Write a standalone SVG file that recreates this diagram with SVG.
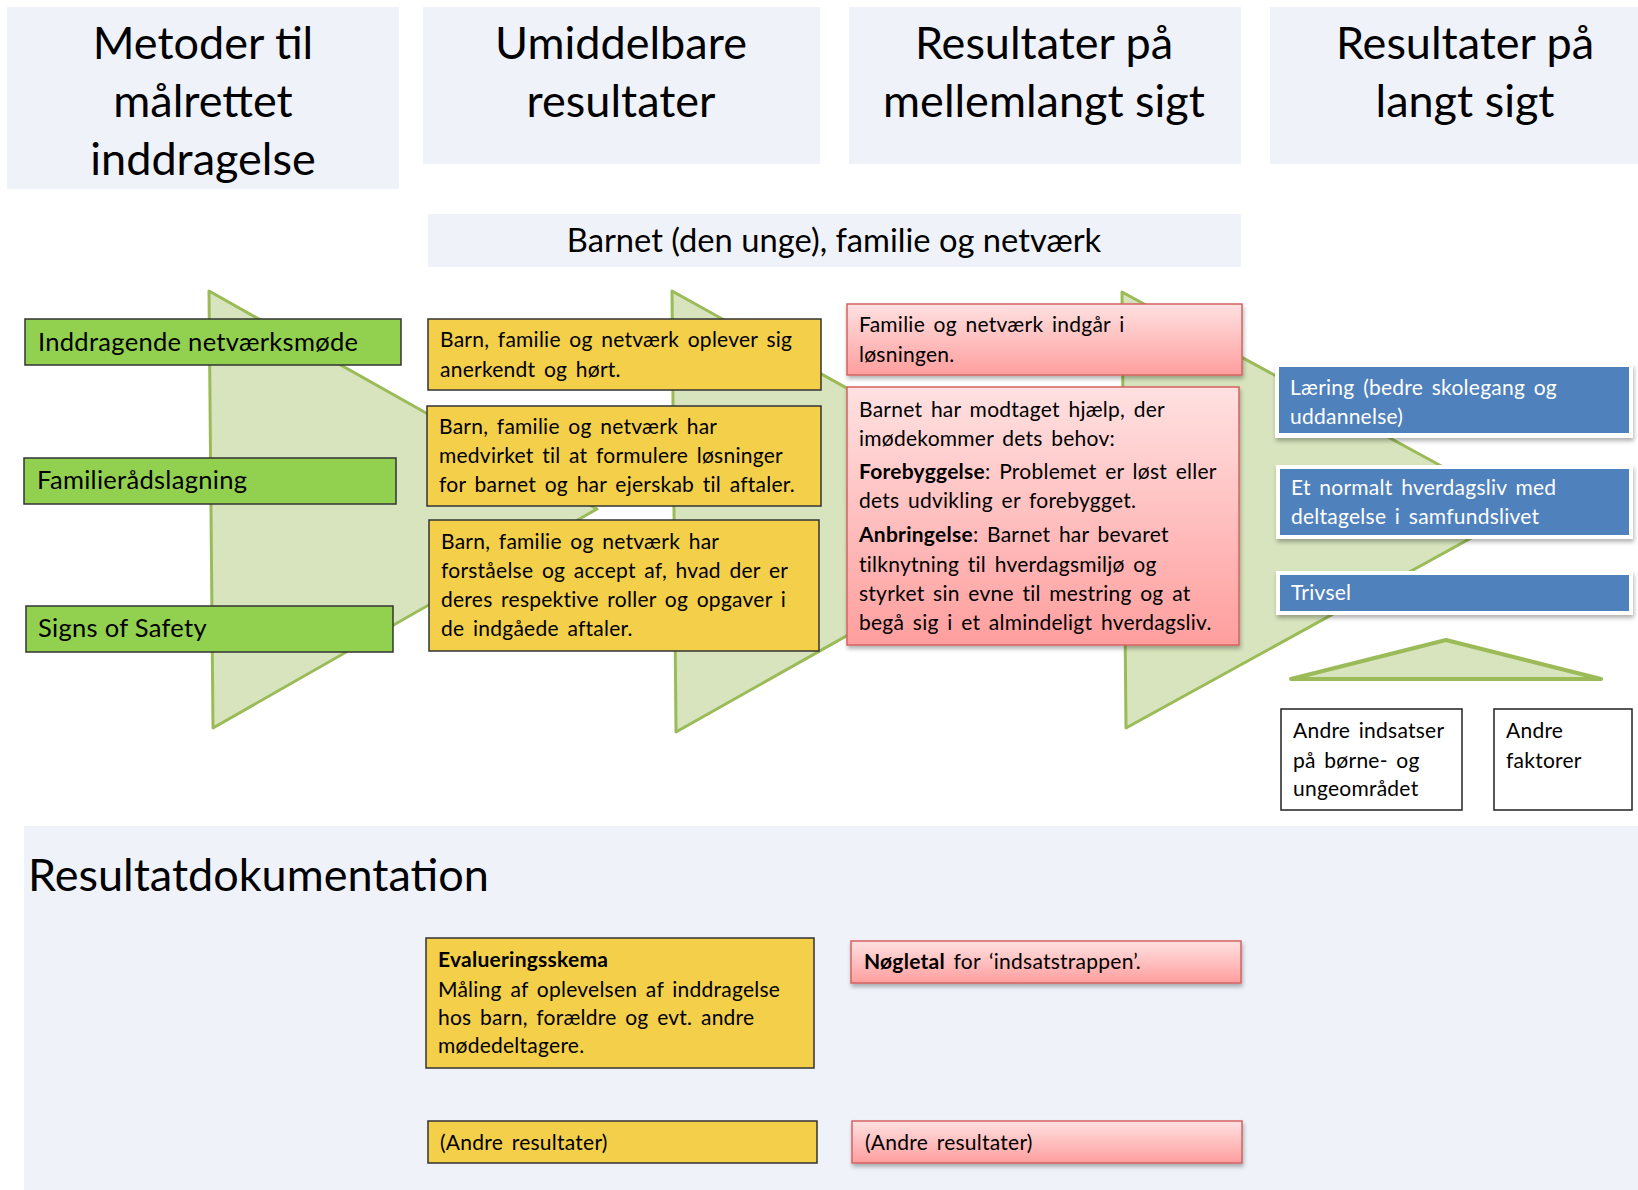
<svg xmlns="http://www.w3.org/2000/svg" width="1638" height="1190" viewBox="0 0 1638 1190">
<defs>
<linearGradient id="redGrad" x1="0" y1="0" x2="0" y2="1">
<stop offset="0" stop-color="#FFE1E1"/>
<stop offset="1" stop-color="#FF9E9E"/>
</linearGradient>
<filter id="shadow" x="-5%" y="-15%" width="110%" height="140%">
<feDropShadow dx="1" dy="3" stdDeviation="2" flood-color="#000" flood-opacity="0.3"/>
</filter>
</defs>
<style>
.panel{fill:#EFF3F9}
.ht{font-family:Lato,"Liberation Sans",sans-serif;font-size:45px;text-anchor:middle;fill:#000}
.tri{fill:#D7E4BD;stroke:#9BBB59;stroke-width:3;stroke-linejoin:round}
.green{fill:#92D050;stroke:#333;stroke-width:1.5}
.yellow{fill:#F3CF4A;stroke:#333;stroke-width:1.5}
.red{fill:url(#redGrad);stroke:#D56262;stroke-width:1.5;filter:url(#shadow)}
.bframe{fill:#fff;filter:url(#shadow)}
.blue{fill:#4F81BD}
.white{fill:#fff;stroke:#222;stroke-width:1.5}
.t{font-family:Lato,"Liberation Sans",sans-serif;font-size:21px;letter-spacing:0.25px;word-spacing:3px;fill:#000}
.tg{font-size:25.5px;letter-spacing:0.3px;word-spacing:0}
.tw{fill:#fff}
.b{font-weight:bold}
</style>

<g id="header-metoder">
<rect class="panel" x="7" y="7" width="392" height="182"/>
<text class="ht" x="203" y="59">Metoder til</text>
<text class="ht" x="203" y="117">målrettet</text>
<text class="ht" x="203" y="175">inddragelse</text>
</g>
<g id="header-umiddelbare">
<rect class="panel" x="423" y="7" width="397" height="157"/>
<text class="ht" x="621" y="59">Umiddelbare</text>
<text class="ht" x="621" y="117">resultater</text>
</g>
<g id="header-mellemlangt">
<rect class="panel" x="849" y="7" width="392" height="157"/>
<text class="ht" x="1044" y="59">Resultater på</text>
<text class="ht" x="1044" y="117">mellemlangt sigt</text>
</g>
<g id="header-langt">
<rect class="panel" x="1270" y="7" width="368" height="157"/>
<text class="ht" x="1465" y="59">Resultater på</text>
<text class="ht" x="1465" y="117">langt sigt</text>
</g>
<g id="barnet-band">
<rect class="panel" x="428" y="214" width="813" height="53"/>
<text x="834" y="252" style="font-family:Lato,'Liberation Sans',sans-serif;font-size:32.7px;text-anchor:middle;fill:#000">Barnet (den unge), familie og netværk</text>
</g>

<g id="bottom-panel">
<rect class="panel" x="24" y="826" width="1614" height="364"/>
<text x="28" y="891" style="font-family:Lato,'Liberation Sans',sans-serif;font-size:45px;fill:#000">Resultatdokumentation</text>
</g>

<g id="connectors">
<polygon class="tri" points="209,291 213,728 597,509"/>
<polygon class="tri" points="672,291 676,732 1068,511"/>
<polygon class="tri" points="1122,292 1126,728 1522,510"/>
<polygon class="tri" points="1291,679 1446,640 1601,679" style="stroke-width:4"/>
</g>

<g id="m1">
<rect class="green" x="25" y="319" width="376" height="46"/>
<text class="t tg" x="38" y="351">Inddragende netværksmøde</text>
</g>
<g id="m2">
<rect class="green" x="24" y="458" width="372" height="46"/>
<text class="t tg" x="37" y="489">Familierådslagning</text>
</g>
<g id="m3">
<rect class="green" x="26" y="606" width="367" height="46"/>
<text class="t tg" x="38" y="637">Signs of Safety</text>
</g>

<g id="u1">
<rect class="yellow" x="428" y="319" width="393" height="71"/>
<text class="t" x="440" y="347">Barn, familie og netværk oplever sig</text>
<text class="t" x="440" y="377">anerkendt og hørt.</text>
</g>
<g id="u2">
<rect class="yellow" x="427" y="406" width="394" height="100"/>
<text class="t" x="439" y="434">Barn, familie og netværk har</text>
<text class="t" x="439" y="463">medvirket til at formulere løsninger</text>
<text class="t" x="439" y="492">for barnet og har ejerskab til aftaler.</text>
</g>
<g id="u3">
<rect class="yellow" x="429" y="520" width="390" height="131"/>
<text class="t" x="441" y="549">Barn, familie og netværk har</text>
<text class="t" x="441" y="578">forståelse og accept af, hvad der er</text>
<text class="t" x="441" y="607">deres respektive roller og opgaver i</text>
<text class="t" x="441" y="636">de indgåede aftaler.</text>
</g>

<g id="r1">
<rect class="red" x="847" y="304" width="395" height="71"/>
<text class="t" x="859" y="332">Familie og netværk indgår i</text>
<text class="t" x="859" y="362">løsningen.</text>
</g>
<g id="r2">
<rect class="red" x="847" y="387" width="392" height="258"/>
<text class="t" x="859" y="417">Barnet har modtaget hjælp, der</text>
<text class="t" x="859" y="446">imødekommer dets behov:</text>
<text class="t" x="859" y="479"><tspan class="b">Forebyggelse</tspan>: Problemet er løst eller</text>
<text class="t" x="859" y="508">dets udvikling er forebygget.</text>
<text class="t" x="859" y="542"><tspan class="b">Anbringelse</tspan>: Barnet har bevaret</text>
<text class="t" x="859" y="572">tilknytning til hverdagsmiljø og</text>
<text class="t" x="859" y="601">styrket sin evne til mestring og at</text>
<text class="t" x="859" y="630">begå sig i et almindeligt hverdagsliv.</text>
</g>

<g id="l1">
<rect class="bframe" x="1275" y="364" width="358" height="74"/>
<rect class="blue" x="1279" y="367" width="350" height="66"/>
<text class="t tw" x="1290" y="395">Læring (bedre skolegang og</text>
<text class="t tw" x="1290" y="424">uddannelse)</text>
</g>
<g id="l2">
<rect class="bframe" x="1276" y="465" width="357" height="74"/>
<rect class="blue" x="1280" y="469" width="349" height="66"/>
<text class="t tw" x="1291" y="495">Et normalt hverdagsliv med</text>
<text class="t tw" x="1291" y="524">deltagelse i samfundslivet</text>
</g>
<g id="l3">
<rect class="bframe" x="1276" y="571" width="357" height="44"/>
<rect class="blue" x="1280" y="575" width="349" height="36"/>
<text class="t tw" x="1291" y="600">Trivsel</text>
</g>

<g id="o1">
<rect class="white" x="1281" y="709" width="181" height="101"/>
<text class="t" x="1293" y="738">Andre indsatser</text>
<text class="t" x="1293" y="768">på børne- og</text>
<text class="t" x="1293" y="796">ungeområdet</text>
</g>
<g id="o2">
<rect class="white" x="1494" y="709" width="138" height="101"/>
<text class="t" x="1506" y="738">Andre</text>
<text class="t" x="1506" y="768">faktorer</text>
</g>

<g id="d1">
<rect class="yellow" x="426" y="938" width="388" height="130"/>
<text class="t b" x="438" y="967">Evalueringsskema</text>
<text class="t" x="438" y="997">Måling af oplevelsen af inddragelse</text>
<text class="t" x="438" y="1025">hos barn, forældre og evt. andre</text>
<text class="t" x="438" y="1053">mødedeltagere.</text>
</g>
<g id="d2">
<rect class="yellow" x="428" y="1121" width="389" height="42"/>
<text class="t" x="440" y="1150">(Andre resultater)</text>
</g>
<g id="d3">
<rect class="red" x="851" y="941" width="390" height="42"/>
<text class="t" x="864" y="969"><tspan class="b">Nøgletal</tspan> for ‘indsatstrappen’.</text>
</g>
<g id="d4">
<rect class="red" x="852" y="1121" width="390" height="42"/>
<text class="t" x="865" y="1150">(Andre resultater)</text>
</g>
</svg>
